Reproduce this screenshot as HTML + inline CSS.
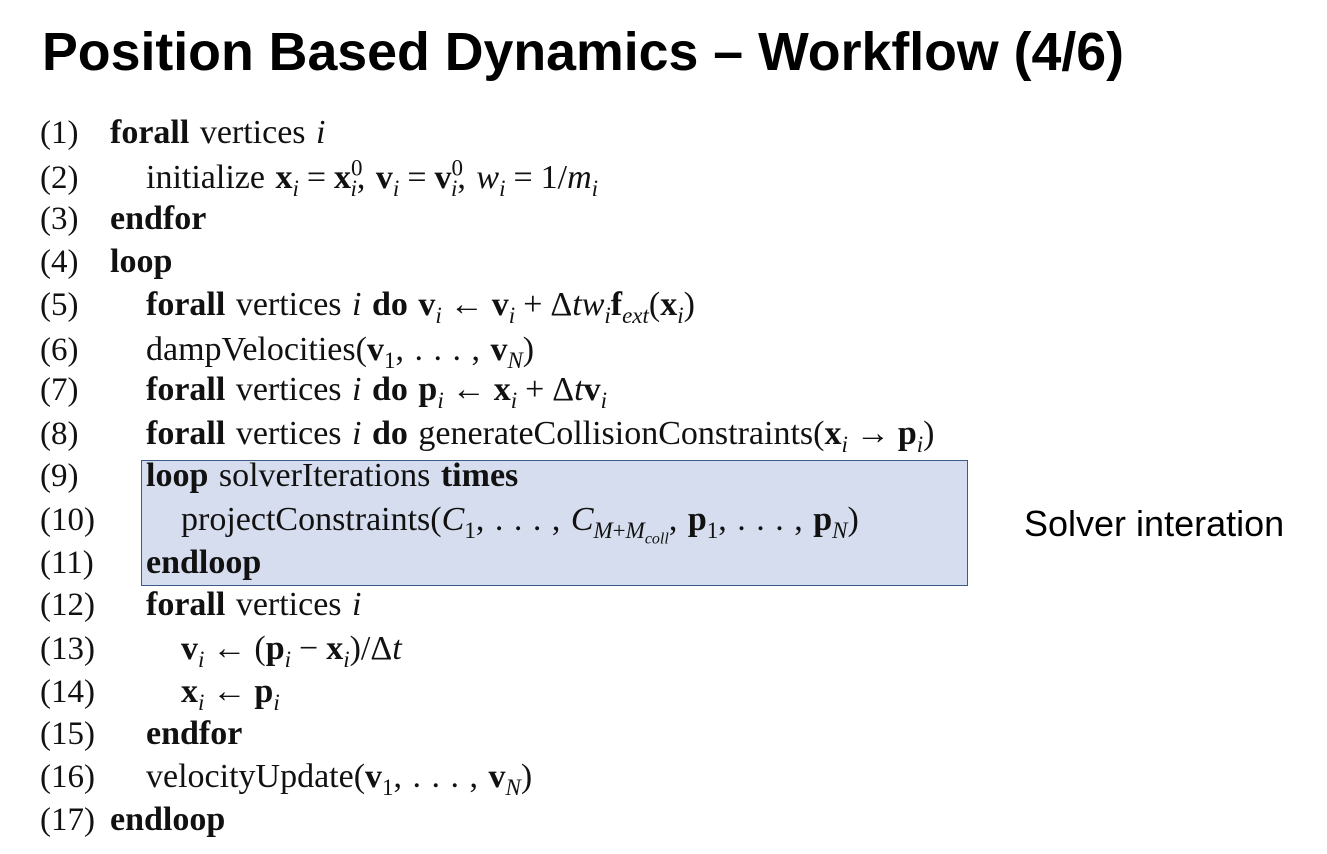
<!DOCTYPE html>
<html><head><meta charset="utf-8"><style>
body{margin:0;width:1327px;height:854px;background:#fff;position:relative;overflow:hidden;font-family:"Liberation Serif",serif;color:#111}
.t{position:absolute;left:42px;top:21px;font:bold 53.7px "Liberation Sans",sans-serif;color:#000;white-space:nowrap}
.l{position:absolute;font-size:34px;line-height:36px;white-space:nowrap;word-spacing:2px}
.n{position:absolute;left:40px;font-size:33px;line-height:36px}
b{font-weight:bold}
sub,sup{font-size:23px;line-height:0}
.o{margin:0 8px}
.box{position:absolute;left:141px;top:460px;width:825px;height:124px;background:#d6ddee;border:1.5px solid #3c5a8c}
.s{position:absolute;left:1024px;top:503px;font:36px "Liberation Sans",sans-serif;color:#000}
</style></head><body>
<div class="t">Position Based Dynamics – Workflow (4/6)</div>
<div class="box"></div>
<div class="s">Solver interation</div>

<div class="n" style="top:115px">(1)</div><div class="l" style="left:110px;top:115px"><b>forall</b> vertices <i>i</i></div>
<div class="n" style="top:160px">(2)</div><div class="l" style="left:146px;top:160px">initialize <b>x</b><sub><i>i</i></sub><span class="o">=</span><b>x</b><sup>0</sup><sub style="margin-left:-12px"><i>i</i></sub>, <b>v</b><sub><i>i</i></sub><span class="o">=</span><b>v</b><sup>0</sup><sub style="margin-left:-12px"><i>i</i></sub>, <i>w<sub>i</sub></i><span class="o">=</span>1/<i>m<sub>i</sub></i></div>
<div class="n" style="top:201px">(3)</div><div class="l" style="left:110px;top:201px"><b>endfor</b></div>
<div class="n" style="top:244px">(4)</div><div class="l" style="left:110px;top:244px"><b>loop</b></div>
<div class="n" style="top:287px">(5)</div><div class="l" style="left:146px;top:287px"><b>forall</b> vertices <i>i</i> <b>do</b> <b>v</b><sub><i>i</i></sub><span class="o">←</span><b>v</b><sub><i>i</i></sub><span class="o">+</span>Δ<i>tw<sub>i</sub></i><b>f</b><sub><i>ext</i></sub>(<b>x</b><sub><i>i</i></sub>)</div>
<div class="n" style="top:332px">(6)</div><div class="l" style="left:146px;top:332px">dampVelocities(<b>v</b><sub>1</sub>, . . . , <b>v</b><sub><i>N</i></sub>)</div>
<div class="n" style="top:372px">(7)</div><div class="l" style="left:146px;top:372px"><b>forall</b> vertices <i>i</i> <b>do</b> <b>p</b><sub><i>i</i></sub><span class="o">←</span><b>x</b><sub><i>i</i></sub><span class="o">+</span>Δ<i>t</i><b>v</b><sub><i>i</i></sub></div>
<div class="n" style="top:416px">(8)</div><div class="l" style="left:146px;top:416px"><b>forall</b> vertices <i>i</i> <b>do</b> generateCollisionConstraints(<b>x</b><sub><i>i</i></sub><span class="o">→</span><b>p</b><sub><i>i</i></sub>)</div>
<div class="n" style="top:458px">(9)</div><div class="l" style="left:146px;top:458px"><b>loop</b> solverIterations <b>times</b></div>
<div class="n" style="top:502px">(10)</div><div class="l" style="left:181px;top:502px">projectConstraints(<i>C</i><sub>1</sub>, . . . , <i>C</i><sub><i>M</i>+<i>M<sub style="font-size:16px">coll</sub></i></sub>, <b>p</b><sub>1</sub>, . . . , <b>p</b><sub><i>N</i></sub>)</div>
<div class="n" style="top:545px">(11)</div><div class="l" style="left:146px;top:545px"><b>endloop</b></div>
<div class="n" style="top:587px">(12)</div><div class="l" style="left:146px;top:587px"><b>forall</b> vertices <i>i</i></div>
<div class="n" style="top:631px">(13)</div><div class="l" style="left:181px;top:631px"><b>v</b><sub><i>i</i></sub><span class="o">←</span>(<b>p</b><sub><i>i</i></sub><span class="o">−</span><b>x</b><sub><i>i</i></sub>)/Δ<i>t</i></div>
<div class="n" style="top:674px">(14)</div><div class="l" style="left:181px;top:674px"><b>x</b><sub><i>i</i></sub><span class="o">←</span><b>p</b><sub><i>i</i></sub></div>
<div class="n" style="top:716px">(15)</div><div class="l" style="left:146px;top:716px"><b>endfor</b></div>
<div class="n" style="top:759px">(16)</div><div class="l" style="left:146px;top:759px">velocityUpdate(<b>v</b><sub>1</sub>, . . . , <b>v</b><sub><i>N</i></sub>)</div>
<div class="n" style="top:802px">(17)</div><div class="l" style="left:110px;top:802px"><b>endloop</b></div>
</body></html>
